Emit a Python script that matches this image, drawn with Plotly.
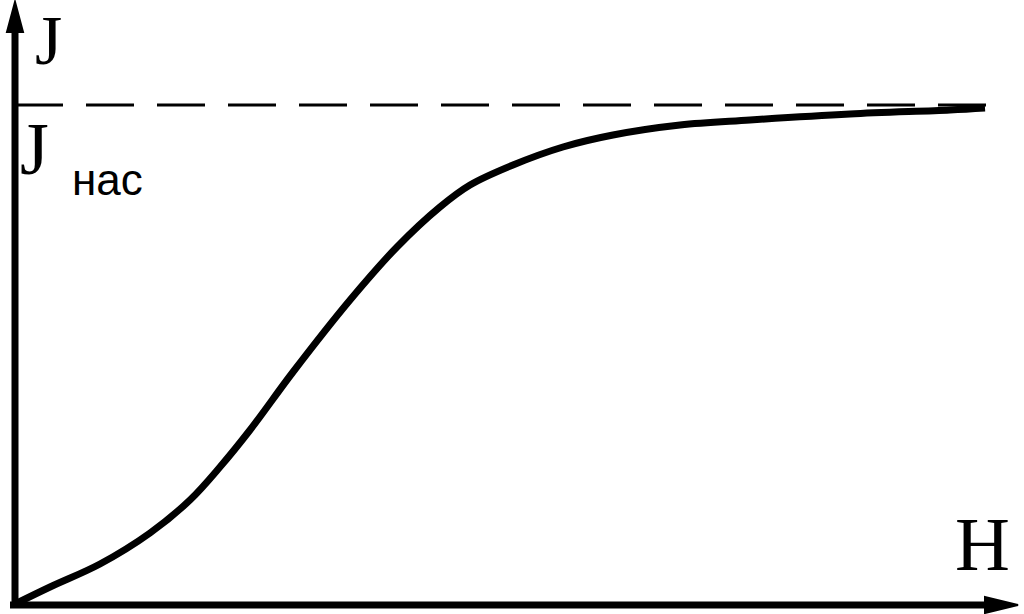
import plotly.graph_objects as go

# Magnetization curve J(H), relative units (J normalised to saturation)
H = [0.0, 0.361, 0.876, 1.392, 1.804, 2.113, 2.423, 2.866, 3.454,
     3.938, 4.381, 4.691, 5.134, 5.649, 6.165, 6.856, 7.577, 8.608, 9.639, 10.0]
J = [0.002, 0.036, 0.082, 0.144, 0.210, 0.276, 0.350, 0.466, 0.610,
     0.716, 0.796, 0.840, 0.880, 0.916, 0.940, 0.960, 0.970, 0.982, 0.990, 0.994]
J_sat = 1.0
H_sat_line = [0.0, 10.15]

W, HT = 1024, 614

def px(x):
    return x / W

def py(y):
    return 1 - y / HT

fig = go.Figure()
fig.add_trace(go.Scatter(x=H_sat_line, y=[J_sat, J_sat], mode="lines",
                         line=dict(color="black", width=3, dash="48px,23px"),
                         hoverinfo="skip"))
fig.add_trace(go.Scatter(x=H, y=J, mode="lines", line_shape="spline",
                         line=dict(color="black", width=7), hoverinfo="skip"))

shapes = [
    # vertical axis
    dict(type="line", xref="paper", yref="paper", x0=px(15), x1=px(15), y0=py(608), y1=py(28),
         line=dict(color="black", width=7)),
    # horizontal axis
    dict(type="line", xref="paper", yref="paper", x0=px(10), x1=px(990), y0=py(605), y1=py(605),
         line=dict(color="black", width=7)),
    # arrowheads
    dict(type="path", xref="paper", yref="paper",
         path=f"M {px(15)} {py(2)} L {px(23)} {py(32)} L {px(7)} {py(32)} Z",
         fillcolor="black", line=dict(color="black", width=2)),
    dict(type="path", xref="paper", yref="paper",
         path=f"M {px(1018)} {py(605)} L {px(985)} {py(597)} L {px(985)} {py(613)} Z",
         fillcolor="black", line=dict(color="black", width=2)),
]

ann = [
    dict(text="J", x=px(33), y=py(0), xanchor="left", yanchor="top",
         font=dict(family="Liberation Serif", size=70, color="black")),
    dict(text="J", x=px(18), y=py(106), xanchor="left", yanchor="top",
         font=dict(family="Liberation Serif", size=74, color="black")),
    dict(text="нас", x=px(70), y=py(206), xanchor="left", yanchor="bottom",
         font=dict(family="Liberation Sans", size=44, color="black")),
    dict(text="H", x=px(953), y=py(588), xanchor="left", yanchor="bottom",
         font=dict(family="Liberation Serif", size=76, color="black")),
]
for a in ann:
    a.update(xref="paper", yref="paper", showarrow=False)

fig.update_layout(
    width=W, height=HT, margin=dict(l=0, r=0, t=0, b=0),
    paper_bgcolor="white", plot_bgcolor="white", showlegend=False,
    xaxis=dict(range=[-15 / 97, 1009 / 97], visible=False),
    yaxis=dict(range=[-9 / 500, 605 / 500], visible=False),
    shapes=shapes, annotations=ann,
)
fig.write_html("out.html", config={"displayModeBar": False, "staticPlot": True},
               post_script="document.body.style.margin='0';document.body.style.overflow='hidden';")
